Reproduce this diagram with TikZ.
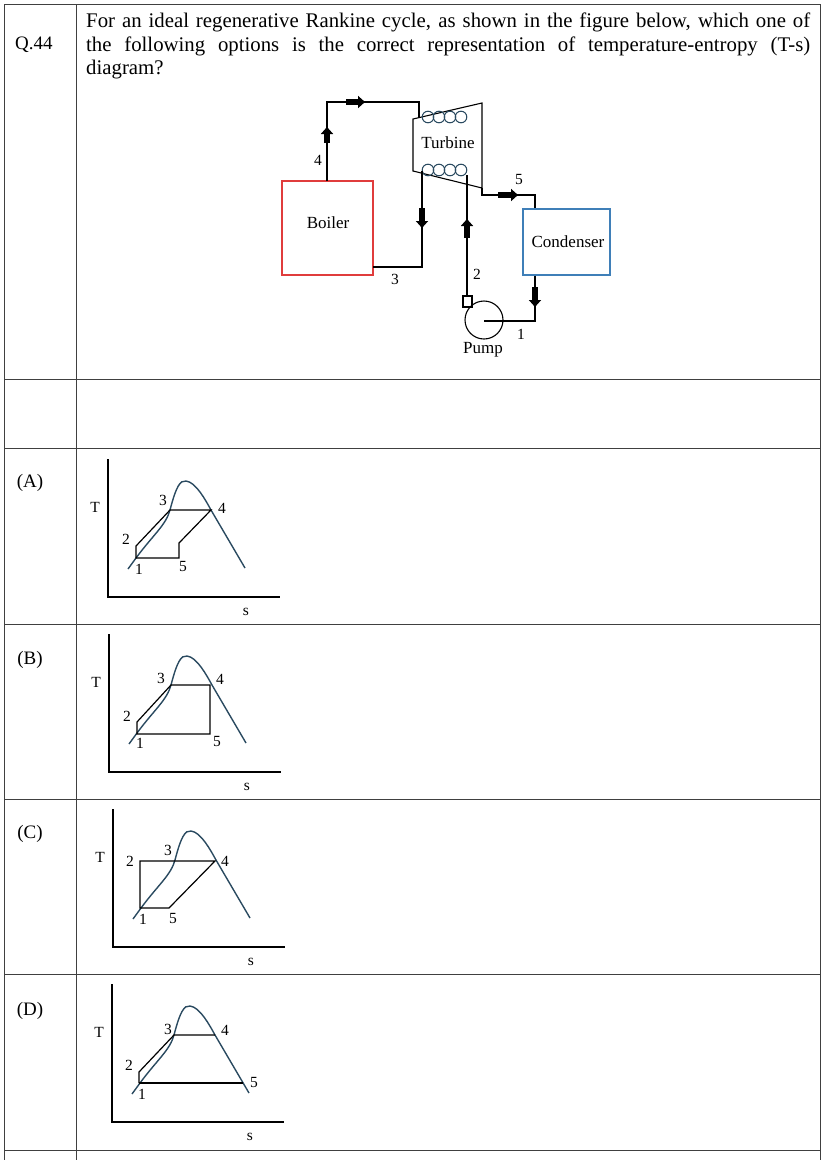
\documentclass[tikz,border=0pt]{standalone}
\usepackage{fontspec}
\setmainfont{Liberation Serif}
\usetikzlibrary{arrows.meta}
\definecolor{dome}{HTML}{2A4A60}
\definecolor{boilred}{HTML}{E03C3C}
\definecolor{condblue}{HTML}{3F7FB8}
\begin{document}
\begin{tikzpicture}[x=1pt,y=-1pt,
  grid/.style={draw=black!75,line width=1pt},
  pipe/.style={draw=black,line width=1.1pt},
  flow/.style={-{Triangle[length=7pt,width=12pt]},line width=5.5pt,black},
  lab/.style={font=\fontsize{15.5}{17}\selectfont,inner sep=0pt},
  big/.style={font=\fontsize{17}{19}\selectfont,inner sep=0pt},
  coil/.style={draw=dome,line width=1pt},
  ax/.style={draw=black,line width=1.2pt},
  cyc/.style={draw=black,line width=1.2pt},
  domeline/.style={draw=dome,line width=1.4pt}]
\useasboundingbox (0,0) rectangle (830,1160);
% table
\draw[grid] (4,4) -- (820,4);
\foreach \y in {379,448,624,799,974,1150} \draw[grid] (4,\y) -- (820,\y);
\draw[grid] (4,4) -- (4,1160);
\draw[grid] (76,4) -- (76,1160);
\draw[grid] (820,4) -- (820,1160);
\node[font=\fontsize{19}{21}\selectfont,inner sep=0pt,anchor=north west] (q) at (15,37) {Q.44};
\node[anchor=north west,inner sep=0pt,text width=724pt,align=justify,font=\fontsize{20.8}{23.5}\selectfont] (qt) at (86,13)
 {\hyphenpenalty=10000 For an ideal regenerative Rankine cycle, as shown in the figure below, which one of\linebreak the following options is the correct representation of temperature-entropy (T-s)\linebreak diagram?};
% schematic
\node[draw=boilred,line width=1.1pt,minimum width=91pt,minimum height=94pt,inner sep=0pt] (boiler) at (327.5,228) {};
\node[big] (bl) at (328,223) {Boiler};
\node[draw=condblue,line width=1.1pt,minimum width=87pt,minimum height=66pt,inner sep=0pt] (cond) at (566.5,242) {};
\node[big] (cl) at (568,242) {Condenser};
\draw[pipe] (413,119) -- (482,103) -- (482,188) -- (413,171) -- cycle;
\node[big] (tl) at (448,143) {Turbine};
\foreach \x in {428,439,450,461} \draw[coil] (\x,117) circle (5.8);
\foreach \x in {428,439,450,461} \draw[coil] (\x,170) circle (5.8);
\coordinate (t4) at (419,117);
\coordinate (b4) at (327,181);
\draw[pipe] (b4) -- (327,102) -- (419,102) -- (t4);
\draw[flow] (327,143) -- (327,127);
\draw[flow] (346,102) -- (365,102);
\node[lab] (l4) at (318,160) {4};
\coordinate (t3) at (422,171);
\draw[pipe] (t3) -- (422,267) -- (373,267);
\draw[flow] (422,208) -- (422,228);
\node[lab] (l3) at (395,279) {3};
% pump
\node[draw=black,circle,line width=1.1pt,minimum size=38pt,inner sep=0pt] (pump) at (484,320) {};
\draw[pipe] (463,307) rectangle (472,296);
\coordinate (t2) at (467,175);
\draw[pipe] (467,296) -- (t2);
\draw[flow] (467,238) -- (467,219);
\node[lab] (l2) at (477,274) {2};
\draw[pipe] (482,188) -- (482,195) -- (535,195) -- (cond.north -| 535,0);
\draw[flow] (498,195) -- (518,195);
\node[lab] (l5) at (519,179) {5};
\draw[pipe] (cond.south -| 535,0) -- (535,321) -- (484,321);
\draw[flow] (535,287) -- (535,307);
\node[lab] (l1) at (521,334) {1};
\node[big] (pl) at (483,350) {Pump};
% option labels
\foreach \t/\y in {A/483,B/660,C/834,D/1011} \node[font=\fontsize{19}{21}\selectfont,inner sep=0pt] at (30,\y) {(\t)};
% T-s diagrams
\newcommand{\tsbase}[2]{%
 \begin{scope}[shift={(#1,#2)}]
 \draw[ax] (0,-138) -- (0,0) -- (172,0);
 \node[lab] at (-13,-90) {T};
 \node[lab] at (138,15) {s};
 \draw[domeline] (20,-28) -- (28,-39) .. controls (45,-62) and (58,-72) .. (62,-87)
   .. controls (68,-110) and (72,-117) .. (78,-116) .. controls (88,-115) and (98,-96) .. (103,-87) -- (137,-29);
 \end{scope}}
% A
\tsbase{108}{597}
\begin{scope}[shift={(108,597)}]
 \draw[cyc] (28,-39) -- (28,-51) -- (62,-87) -- (103,-87) -- (71,-54) -- (71,-39) -- cycle;
 \node[lab] at (18,-58) {2}; \node[lab] at (55,-97) {3}; \node[lab] at (114,-89) {4};
 \node[lab] at (31,-28) {1}; \node[lab] at (75,-31) {5};
\end{scope}
% B
\tsbase{109}{772}
\begin{scope}[shift={(109,772)}]
 \draw[cyc] (28,-38) -- (28,-50) -- (62,-87) -- (101,-87) -- (101,-38) -- cycle;
 \node[lab] at (18,-56) {2}; \node[lab] at (52,-94) {3}; \node[lab] at (111,-93) {4};
 \node[lab] at (31,-29) {1}; \node[lab] at (108,-31) {5};
\end{scope}
% C
\tsbase{113}{947}
\begin{scope}[shift={(113,947)}]
 \draw[cyc] (27,-39) -- (27,-86) -- (102,-86) -- (56,-39) -- cycle;
 \node[lab] at (17,-86) {2}; \node[lab] at (55,-97) {3}; \node[lab] at (112,-86) {4};
 \node[lab] at (30,-28) {1}; \node[lab] at (60,-29) {5};
\end{scope}
% D
\tsbase{112}{1122}
\begin{scope}[shift={(112,1122)}]
 \draw[cyc] (27,-39) -- (27,-50) -- (62,-87) -- (103,-87);
 \draw[cyc] (27,-39) -- (131,-39);
 \node[lab] at (17,-57) {2}; \node[lab] at (56,-93) {3}; \node[lab] at (113,-92) {4};
 \node[lab] at (30,-28) {1}; \node[lab] at (142,-40) {5};
\end{scope}
\end{tikzpicture}
\end{document}
